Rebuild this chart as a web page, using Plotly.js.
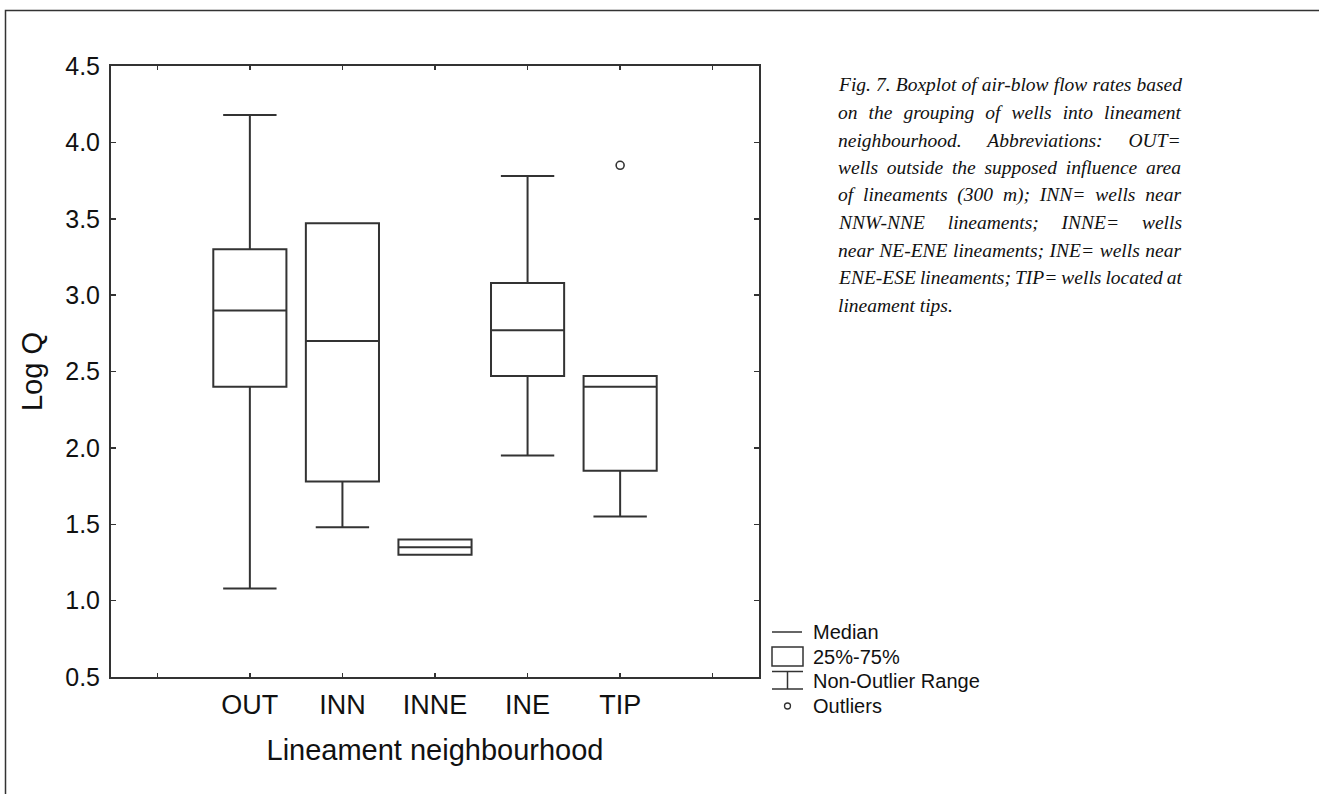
<!DOCTYPE html>
<html>
<head>
<meta charset="utf-8">
<script src="https://cdn.plot.ly/plotly-3.0.1.min.js"></script>
</head>
<body style="margin:0;background:#fff">
<div id="chart" style="width:1319px;height:794px"></div>
<script>
// ---------------- data ----------------
const categories   = ['OUT', 'INN', 'INNE', 'INE', 'TIP'];
const lowerWhisker = [1.08, 1.48, 1.30, 1.95, 1.55];
const q1Values     = [2.40, 1.78, 1.30, 2.47, 1.85];
const medianValues = [2.90, 2.70, 1.35, 2.77, 2.40];
const q3Values     = [3.30, 3.47, 1.40, 3.08, 2.47];
const upperWhisker = [4.18, 3.47, 1.40, 3.78, 2.47];
const outlierCategories = ['TIP'];
const outlierValues     = [3.85];
const yTickValues = [0.5, 1.0, 1.5, 2.0, 2.5, 3.0, 3.5, 4.0, 4.5];
const legendLabels = ['Median', '25%-75%', 'Non-Outlier Range', 'Outliers'];
const captionLines = [
  'Fig. 7. Boxplot of air-blow flow rates based',
  'on the grouping of wells into lineament',
  'neighbourhood. Abbreviations: OUT=',
  'wells outside the supposed influence area',
  'of lineaments (300 m); INN= wells near',
  'NNW-NNE lineaments; INNE= wells',
  'near NE-ENE lineaments; INE= wells near',
  'ENE-ESE lineaments; TIP= wells located at',
  'lineament tips.'
];

// ---------------- layout helpers ----------------
const W = 1319, H = 794;
const PL = 111, PR = 759, PT = 66, PB = 677;
const px = v => (v - PL) / (PR - PL);
const py = v => (PB - v) / (PB - PT);
const INK = '#333333';
const SANS = 'Liberation Sans, Arial, sans-serif';
const SERIF = 'Liberation Serif, Times New Roman, serif';

const pos = categories.map((c, i) => i + 1);
const tickVals = [0].concat(pos, [categories.length + 1]);
const tickText = [''].concat(categories, ['']);

const boxTrace = {
  type: 'box',
  x: pos,
  q1: q1Values,
  median: medianValues,
  q3: q3Values,
  lowerfence: lowerWhisker,
  upperfence: upperWhisker,
  width: 0.79,
  whiskerwidth: 0.73,
  boxpoints: false,
  fillcolor: 'rgba(255,255,255,0)',
  line: {color: INK, width: 2},
  hoverinfo: 'skip',
  showlegend: false
};

const outlierTrace = {
  type: 'scatter',
  mode: 'markers',
  x: outlierCategories.map(c => categories.indexOf(c) + 1),
  y: outlierValues,
  marker: {symbol: 'circle-open', size: 8, color: INK, line: {color: INK, width: 1.6}},
  hoverinfo: 'skip',
  showlegend: false
};

// ---------------- legend (drawn) ----------------
const legX0 = 772, legX1 = 803, legMid = 787.5, legTextX = 811;
const legRowY = [632, 657, 681, 706];
const shapes = [
  // outer frame (left and top edges)
  {type: 'path', xref: 'paper', yref: 'paper',
   path: `M ${px(5.5)} ${py(H + 5)} L ${px(5.5)} ${py(10.5)} L ${px(W + 5)} ${py(10.5)}`,
   line: {color: INK, width: 1.5}},
  // median symbol
  {type: 'line', xref: 'paper', yref: 'paper', x0: px(legX0), x1: px(legX1 - 1), y0: py(legRowY[0]), y1: py(legRowY[0]), line: {color: INK, width: 1.5}},
  // box symbol
  {type: 'rect', xref: 'paper', yref: 'paper', x0: px(legX0), x1: px(legX1), y0: py(647), y1: py(666), line: {color: INK, width: 1.5}},
  // whisker symbol
  {type: 'line', xref: 'paper', yref: 'paper', x0: px(legX0), x1: px(legX1), y0: py(671.5), y1: py(671.5), line: {color: INK, width: 1.5}},
  {type: 'line', xref: 'paper', yref: 'paper', x0: px(legMid), x1: px(legMid), y0: py(671.5), y1: py(689), line: {color: INK, width: 1.5}},
  {type: 'line', xref: 'paper', yref: 'paper', x0: px(legX0), x1: px(legX1), y0: py(689), y1: py(689), line: {color: INK, width: 1.5}},
  // outlier symbol
  {type: 'circle', xref: 'paper', yref: 'paper', x0: px(legMid - 3), x1: px(legMid + 3), y0: py(legRowY[3] + 3), y1: py(legRowY[3] - 3), line: {color: INK, width: 1.3}}
];

const annotations = legendLabels.map((t, i) => ({
  xref: 'paper', yref: 'paper', x: px(legTextX), y: py(legRowY[i]),
  xanchor: 'left', yanchor: 'middle', showarrow: false, text: t,
  font: {family: SANS, size: 20, color: '#111'}
}));

// ---------------- caption (justified) ----------------
const CAP_FS = 19.5, CAP_X0 = 837, CAP_X1 = 1180, CAP_Y0 = 85, CAP_DY = 27.5;
const ctx = document.createElement('canvas').getContext('2d');
ctx.font = `italic ${CAP_FS}px "Liberation Serif"`;
captionLines.forEach((line, i) => {
  let txt = line;
  if (i < captionLines.length - 1) {
    const natural = ctx.measureText(line).width;
    const nSp = (line.match(/ /g) || []).length;
    const ws = nSp ? (CAP_X1 - CAP_X0 - natural) / nSp : 0;
    txt = `<span style="word-spacing:${ws.toFixed(2)}px">${line}</span>`;
  }
  annotations.push({
    xref: 'paper', yref: 'paper', x: px(CAP_X0), y: py(CAP_Y0 + i * CAP_DY),
    xanchor: 'left', yanchor: 'middle', showarrow: false, text: txt,
    borderpad: 0,
    font: {family: SERIF, size: CAP_FS, color: '#111', style: 'italic'}
  });
});

const layout = {
  width: W, height: H,
  margin: {l: PL, r: W - PR, t: PT, b: H - PB, pad: 0},
  paper_bgcolor: '#ffffff', plot_bgcolor: '#ffffff',
  showlegend: false,
  xaxis: {
    range: [-0.5, categories.length + 1.5],
    tickmode: 'array', tickvals: tickVals, ticktext: tickText,
    ticks: 'inside', ticklen: 4, tickwidth: 1.5, tickcolor: INK,
    showline: true, linecolor: INK, linewidth: 2, mirror: 'ticks',
    showgrid: false, zeroline: false,
    tickfont: {family: SANS, size: 27, color: '#111'},
    ticklabelstandoff: 3,
    title: {text: 'Lineament neighbourhood', font: {family: SANS, size: 29, color: '#111'}, standoff: 20}
  },
  yaxis: {
    range: [0.5, 4.5],
    tickmode: 'array', tickvals: yTickValues, ticktext: yTickValues.map(v => v.toFixed(1)),
    ticks: 'inside', ticklen: 5, tickwidth: 1.5, tickcolor: INK,
    showline: true, linecolor: INK, linewidth: 2, mirror: 'ticks',
    showgrid: false, zeroline: false,
    tickfont: {family: SANS, size: 25, color: '#111'},
    ticklabelstandoff: 4,
    title: {text: 'Log Q', font: {family: SANS, size: 29, color: '#111'}, standoff: 14}
  },
  shapes: shapes,
  annotations: annotations
};

Plotly.newPlot('chart', [boxTrace, outlierTrace], layout, {staticPlot: true, displayModeBar: false});
</script>
</body>
</html>
